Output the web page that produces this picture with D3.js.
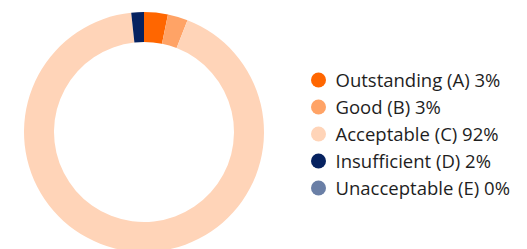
<!DOCTYPE html>
<html>
<head>
<meta charset="utf-8">
<script src="https://cdn.jsdelivr.net/npm/d3@7"></script>
<style>
  body { margin: 0; background: #fff; }
  svg { display: block; }
</style>
</head>
<body>
<div id="chart"></div>
<script>
const categories = ['Outstanding (A)', 'Good (B)', 'Acceptable (C)', 'Insufficient (D)', 'Unacceptable (E)'];
const values = [3.2, 2.7, 92.4, 1.7, 0];
const colors = ['#ff6600', '#ffa366', '#ffd4b8', '#062260', '#6a7fa6'];

const width = 527, height = 249;
const cx = 144, cy = 132;
const outerR = 120, innerR = 90;

const svg = d3.select('#chart').append('svg')
  .attr('width', width)
  .attr('height', height);

const data = categories.map((c, i) => ({ name: c, value: values[i], color: colors[i] }));

const pie = d3.pie().value(d => d.value).sort(null);
const arc = d3.arc().innerRadius(innerR).outerRadius(outerR);

// donut
svg.append('g')
  .attr('transform', `translate(${cx},${cy})`)
  .selectAll('path')
  .data(pie(data))
  .enter().append('path')
  .attr('d', arc)
  .attr('fill', d => d.data.color);

// legend
const y = d3.scaleLinear().domain([0, categories.length - 1]).range([80, 188]);

const legend = svg.append('g')
  .selectAll('g')
  .data(data)
  .enter().append('g')
  .attr('transform', (d, i) => `translate(318.5,${y(i)})`);

legend.append('circle')
  .attr('r', 7.5)
  .attr('fill', d => d.color);

legend.append('text')
  .attr('x', 17)
  .attr('dy', '0.36em')
  .style('font-family', '"Open Sans", sans-serif')
  .style('font-size', '18.5px')
  .style('fill', '#1e1e1e')
  .text(d => `${d.name} ${Math.round(d.value)}%`);
</script>
</body>
</html>
